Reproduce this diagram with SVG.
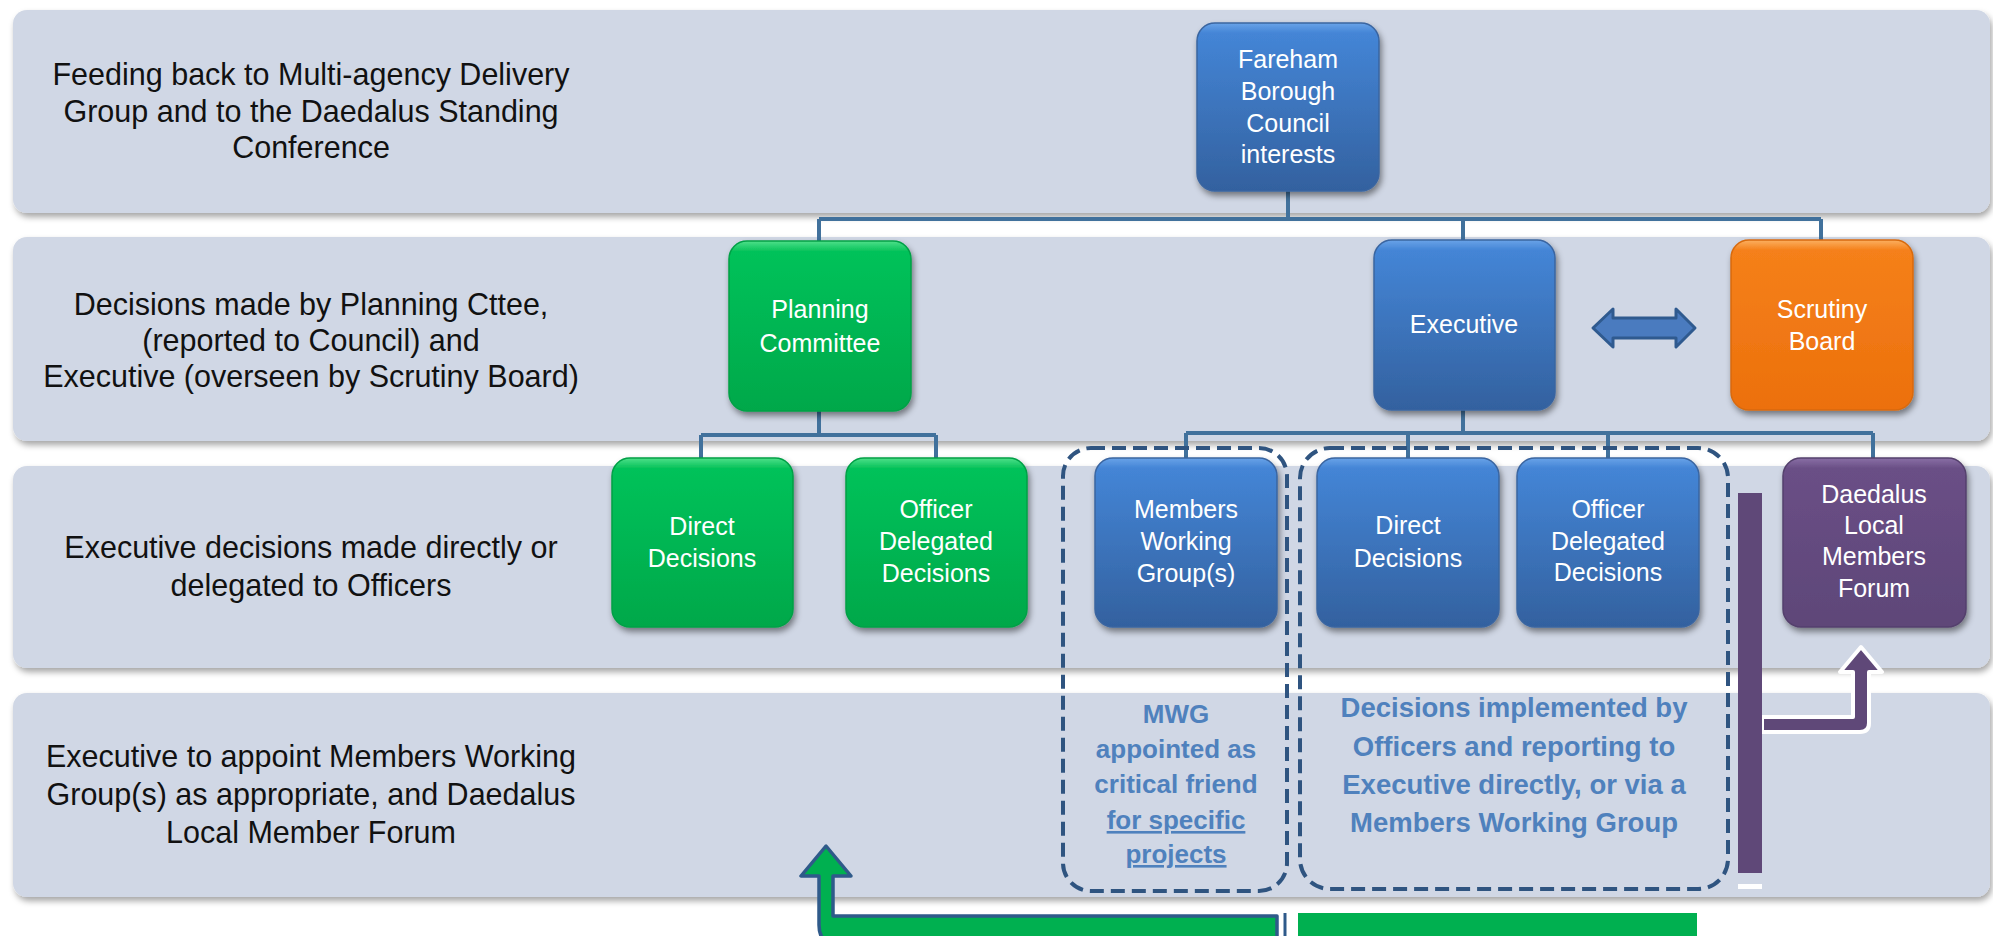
<svg xmlns="http://www.w3.org/2000/svg" width="1993" height="936" viewBox="0 0 1993 936">
<style>
.band{fill:#d0d7e5;filter:url(#bsh)}
.bt{font-family:"Liberation Sans",Arial,sans-serif;font-size:30.5px;fill:#111;text-anchor:middle}
.nt{font-family:"Liberation Sans",Arial,sans-serif;font-size:25px;fill:#fff;text-anchor:middle}
.dt{font-family:"Liberation Sans",Arial,sans-serif;font-size:26px;font-weight:bold;fill:#4f81bd;text-anchor:middle}
.dt2{font-size:27.5px}
.conn{fill:none;stroke:#41719c;stroke-width:4}
.dash{fill:none;stroke:#2f5480;stroke-width:4;stroke-dasharray:14 7}
.blue{fill:url(#gb);stroke:#3a65a0;stroke-width:1.5;filter:url(#nsh)}
.green{fill:url(#gg);stroke:#00a046;stroke-width:1.5;filter:url(#nsh)}
.orange{fill:url(#go);stroke:#d86a0c;stroke-width:1.5;filter:url(#nsh)}
.purple{fill:url(#gp);stroke:#54406c;stroke-width:1.5;filter:url(#nsh)}
</style>
<defs>
<filter id="bsh" x="-5%" y="-10%" width="110%" height="125%"><feDropShadow dx="2" dy="4" stdDeviation="3" flood-color="#000" flood-opacity="0.35"/></filter>
<filter id="nsh" x="-10%" y="-10%" width="125%" height="125%"><feDropShadow dx="2" dy="4" stdDeviation="3" flood-color="#000" flood-opacity="0.45"/></filter>
<linearGradient id="gb" x1="0" y1="0" x2="0" y2="1"><stop offset="0" stop-color="#6aa3e8"/><stop offset="0.06" stop-color="#4485d6"/><stop offset="1" stop-color="#33619f"/></linearGradient>
<linearGradient id="gg" x1="0" y1="0" x2="0" y2="1"><stop offset="0" stop-color="#4fe08a"/><stop offset="0.06" stop-color="#06c25a"/><stop offset="1" stop-color="#00a84a"/></linearGradient>
<linearGradient id="go" x1="0" y1="0" x2="0" y2="1"><stop offset="0" stop-color="#fbb060"/><stop offset="0.06" stop-color="#f5801a"/><stop offset="1" stop-color="#ec700c"/></linearGradient>
<linearGradient id="gp" x1="0" y1="0" x2="0" y2="1"><stop offset="0" stop-color="#8a70a6"/><stop offset="0.06" stop-color="#6a4f86"/><stop offset="1" stop-color="#5e4678"/></linearGradient>
</defs>
<rect width="1993" height="936" fill="#fff"/>
<g id="bands">
<rect class="band" x="13" y="10" width="1977" height="203" rx="14"/>
<rect class="band" x="13" y="237" width="1977" height="204" rx="14"/>
<rect class="band" x="13" y="466" width="1977" height="202" rx="14"/>
<rect class="band" x="13" y="693" width="1977" height="204" rx="14"/>
</g>
<g id="band-labels">
<text class="bt" x="311" y="85">Feeding back to Multi-agency Delivery</text>
<text class="bt" x="311" y="122">Group and to the Daedalus  Standing</text>
<text class="bt" x="311" y="158">Conference</text>
<text class="bt" x="311" y="315">Decisions made by Planning Cttee,</text>
<text class="bt" x="311" y="351">(reported to Council) and</text>
<text class="bt" x="311" y="387">Executive (overseen by Scrutiny Board)</text>
<text class="bt" x="311" y="558">Executive decisions made directly or</text>
<text class="bt" x="311" y="596">delegated to Officers</text>
<text class="bt" x="311" y="767">Executive to appoint Members Working</text>
<text class="bt" x="311" y="805">Group(s) as appropriate, and Daedalus</text>
<text class="bt" x="311" y="843">Local Member Forum</text>
</g>
<g id="connectors">
<path class="conn" d="M1288 191V219M819 219H1821M819 219V241M1463 219V240M1821 219V240"/>
<path class="conn" d="M819 411V435M701 435H936M701 435V458M936 435V458"/>
<path class="conn" d="M1463 410V433M1186 433H1873M1186 433V458M1408 433V458M1608 433V458M1873 433V458"/>
<path d="M1593 328L1613 309V318H1676V309L1695 328L1676 347V338H1613V347Z" fill="#4a7bbf" stroke="#2f5a8f" stroke-width="3" stroke-linejoin="round"/>
<path d="M1762 717H1853V672H1840L1861 647L1882 672H1869V723Q1869 732 1860 732H1762Z" fill="#5f4878" stroke="#fff" stroke-width="4" stroke-linejoin="round"/>
<rect x="1738" y="493" width="24" height="380" fill="#5f4878"/>
<rect x="1738" y="884" width="24" height="5" fill="#fff"/>
<path d="M819 876V925Q819 945 839 945H1277V916H833V876H851L826 846L801 876Z" fill="#00b050" stroke="#2f5a8a" stroke-width="3.5" stroke-linejoin="round"/>
<line x1="1285" y1="913" x2="1285" y2="936" stroke="#2f5a8a" stroke-width="3"/>
<rect x="1298" y="913" width="399" height="30" fill="#00b050"/>
</g>
<g id="fareham"><rect class="blue" x="1197" y="23" width="182" height="168" rx="18"/>
<text class="nt" x="1288" y="68">Fareham</text><text class="nt" x="1288" y="100">Borough</text><text class="nt" x="1288" y="132">Council</text><text class="nt" x="1288" y="163">interests</text></g>
<g id="planning"><rect class="green" x="729" y="241" width="182" height="170" rx="18"/>
<text class="nt" x="820" y="318">Planning</text><text class="nt" x="820" y="352">Committee</text></g>
<g id="executive"><rect class="blue" x="1374" y="240" width="181" height="170" rx="18"/>
<text class="nt" x="1464" y="333">Executive</text></g>
<g id="scrutiny"><rect class="orange" x="1731" y="240" width="182" height="170" rx="18"/>
<text class="nt" x="1822" y="318">Scrutiny</text><text class="nt" x="1822" y="350">Board</text></g>
<g id="direct-green"><rect class="green" x="612" y="458" width="181" height="169" rx="18"/>
<text class="nt" x="702" y="535">Direct</text><text class="nt" x="702" y="567">Decisions</text></g>
<g id="officer-green"><rect class="green" x="846" y="458" width="181" height="169" rx="18"/>
<text class="nt" x="936" y="518">Officer</text><text class="nt" x="936" y="550">Delegated</text><text class="nt" x="936" y="582">Decisions</text></g>
<g id="mwg"><rect class="blue" x="1095" y="458" width="182" height="169" rx="18"/>
<text class="nt" x="1186" y="518">Members</text><text class="nt" x="1186" y="550">Working</text><text class="nt" x="1186" y="582">Group(s)</text></g>
<g id="direct-blue"><rect class="blue" x="1317" y="458" width="182" height="169" rx="18"/>
<text class="nt" x="1408" y="534">Direct</text><text class="nt" x="1408" y="567">Decisions</text></g>
<g id="officer-blue"><rect class="blue" x="1517" y="458" width="182" height="169" rx="18"/>
<text class="nt" x="1608" y="518">Officer</text><text class="nt" x="1608" y="550">Delegated</text><text class="nt" x="1608" y="581">Decisions</text></g>
<g id="daedalus"><rect class="purple" x="1783" y="458" width="183" height="169" rx="18"/>
<text class="nt" x="1874" y="503">Daedalus</text><text class="nt" x="1874" y="534">Local</text><text class="nt" x="1874" y="565">Members</text><text class="nt" x="1874" y="597">Forum</text></g>
<g id="mwg-group"><rect class="dash" x="1063" y="448" width="224" height="443" rx="28"/>
<text class="dt" x="1176" y="723">MWG</text><text class="dt" x="1176" y="758">appointed as</text><text class="dt" x="1176" y="793">critical friend</text>
<text class="dt" x="1176" y="829" text-decoration="underline">for specific</text><text class="dt" x="1176" y="863" text-decoration="underline">projects</text></g>
<g id="officers-group"><rect class="dash" x="1300" y="448" width="428" height="441" rx="30"/>
<text class="dt dt2" x="1514" y="717">Decisions implemented by</text><text class="dt dt2" x="1514" y="756">Officers and reporting to</text>
<text class="dt dt2" x="1514" y="794">Executive directly, or via a</text><text class="dt dt2" x="1514" y="832">Members Working Group</text></g>
</svg>
